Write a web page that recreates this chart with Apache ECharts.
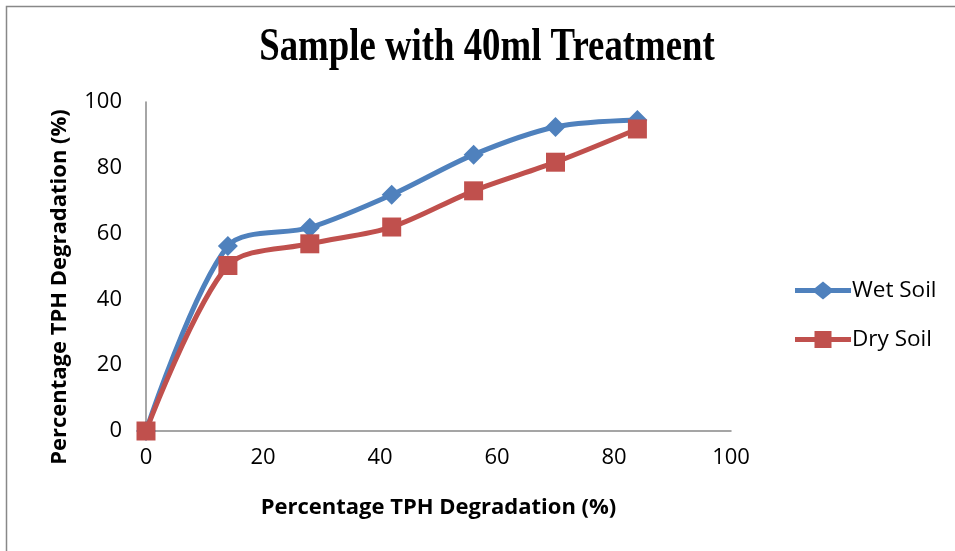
<!DOCTYPE html>
<html>
<head>
<meta charset="utf-8">
<script src="https://cdn.jsdelivr.net/npm/echarts@6/dist/echarts.min.js"></script>
<style>html,body{margin:0;padding:0;background:#fff}#c{width:955px;height:551px}</style>
</head>
<body>
<div id="c"></div>
<script>
const titleText = 'Sample with 40ml Treatment';
const xAxisName = 'Percentage TPH Degradation (%)';
const yAxisName = 'Percentage TPH Degradation (%)';
const seriesNames = ['Wet Soil', 'Dry Soil'];
const xValues = [0, 14, 28, 42, 56, 70, 84];
const wetSoil = [0, 56.2, 61.8, 71.8, 84, 92.4, 94.5];
const drySoil = [0, 50.3, 56.9, 62, 73, 81.7, 91.8];

const chart = echarts.init(document.getElementById('c'));
const font = '"Open Sans", Lato, sans-serif';
const wetIcon = 'path://M0,6.5 L20,6.5 L28,0 L36,6.5 L56,6.5 L56,11.5 L36,11.5 L28,18 L20,11.5 L0,11.5 Z';
const dryIcon = 'path://M0,6.5 L19.5,6.5 L19.5,0.5 L36.5,0.5 L36.5,6.5 L56,6.5 L56,11.5 L36.5,11.5 L36.5,17.5 L19.5,17.5 L19.5,11.5 L0,11.5 Z';
chart.setOption({
  animation: false,
  graphic: [
    { type: 'rect', shape: { x: 6.5, y: 6.5, width: 1200, height: 1200 }, style: { fill: 'none', stroke: '#888', lineWidth: 1.5 } },
    { type: 'text', x: 487, y: 48, scaleX: 0.8, scaleY: 1,
      style: { text: titleText, font: 'bold 46px "Liberation Serif", serif', fill: '#000', textAlign: 'center', textVerticalAlign: 'middle' } },
    { type: 'text', x: 60, y: 287, rotation: Math.PI / 2,
      style: { text: yAxisName, font: 'bold 22px ' + font, fill: '#000', textAlign: 'center', textVerticalAlign: 'middle' } }
  ],
  legend: {
    orient: 'vertical', left: 790, top: 274, itemGap: 26, itemWidth: 56, itemHeight: 18,
    textStyle: { fontFamily: font, fontSize: 22.5, color: '#000', padding: [0, 0, 0, -4] },
    data: [{ name: seriesNames[0], icon: wetIcon }, { name: seriesNames[1], icon: dryIcon }]
  },
  grid: { left: 146, right: 224, top: 102, bottom: 120, containLabel: false },
  xAxis: {
    type: 'value', min: 0, max: 100, interval: 20,
    name: xAxisName, nameLocation: 'middle', nameGap: 66,
    nameTextStyle: { fontFamily: font, fontWeight: 'bold', fontSize: 22, color: '#000' },
    axisLine: { lineStyle: { color: '#888', width: 1.5 } },
    axisTick: { show: false }, splitLine: { show: false },
    axisLabel: { fontFamily: font, fontSize: 22, color: '#000', margin: 16 }
  },
  yAxis: {
    type: 'value', min: 0, max: 100, interval: 20,
    axisLine: { show: true, lineStyle: { color: '#888', width: 1.5 } },
    axisTick: { show: false }, splitLine: { show: false },
    axisLabel: { fontFamily: font, fontSize: 22, color: '#000', margin: 24 }
  },
  series: [
    {
      name: seriesNames[0], type: 'line', smooth: 0.3,
      data: xValues.map((x, i) => [x, wetSoil[i]]),
      symbol: 'diamond', symbolSize: 20,
      lineStyle: { color: '#4F81BD', width: 5 },
      itemStyle: { color: '#4F81BD' }
    },
    {
      name: seriesNames[1], type: 'line', smooth: 0.3,
      data: xValues.map((x, i) => [x, drySoil[i]]),
      symbol: 'rect', symbolSize: 19,
      lineStyle: { color: '#C0504D', width: 5 },
      itemStyle: { color: '#C0504D' }
    }
  ]
});
</script>
</body>
</html>
